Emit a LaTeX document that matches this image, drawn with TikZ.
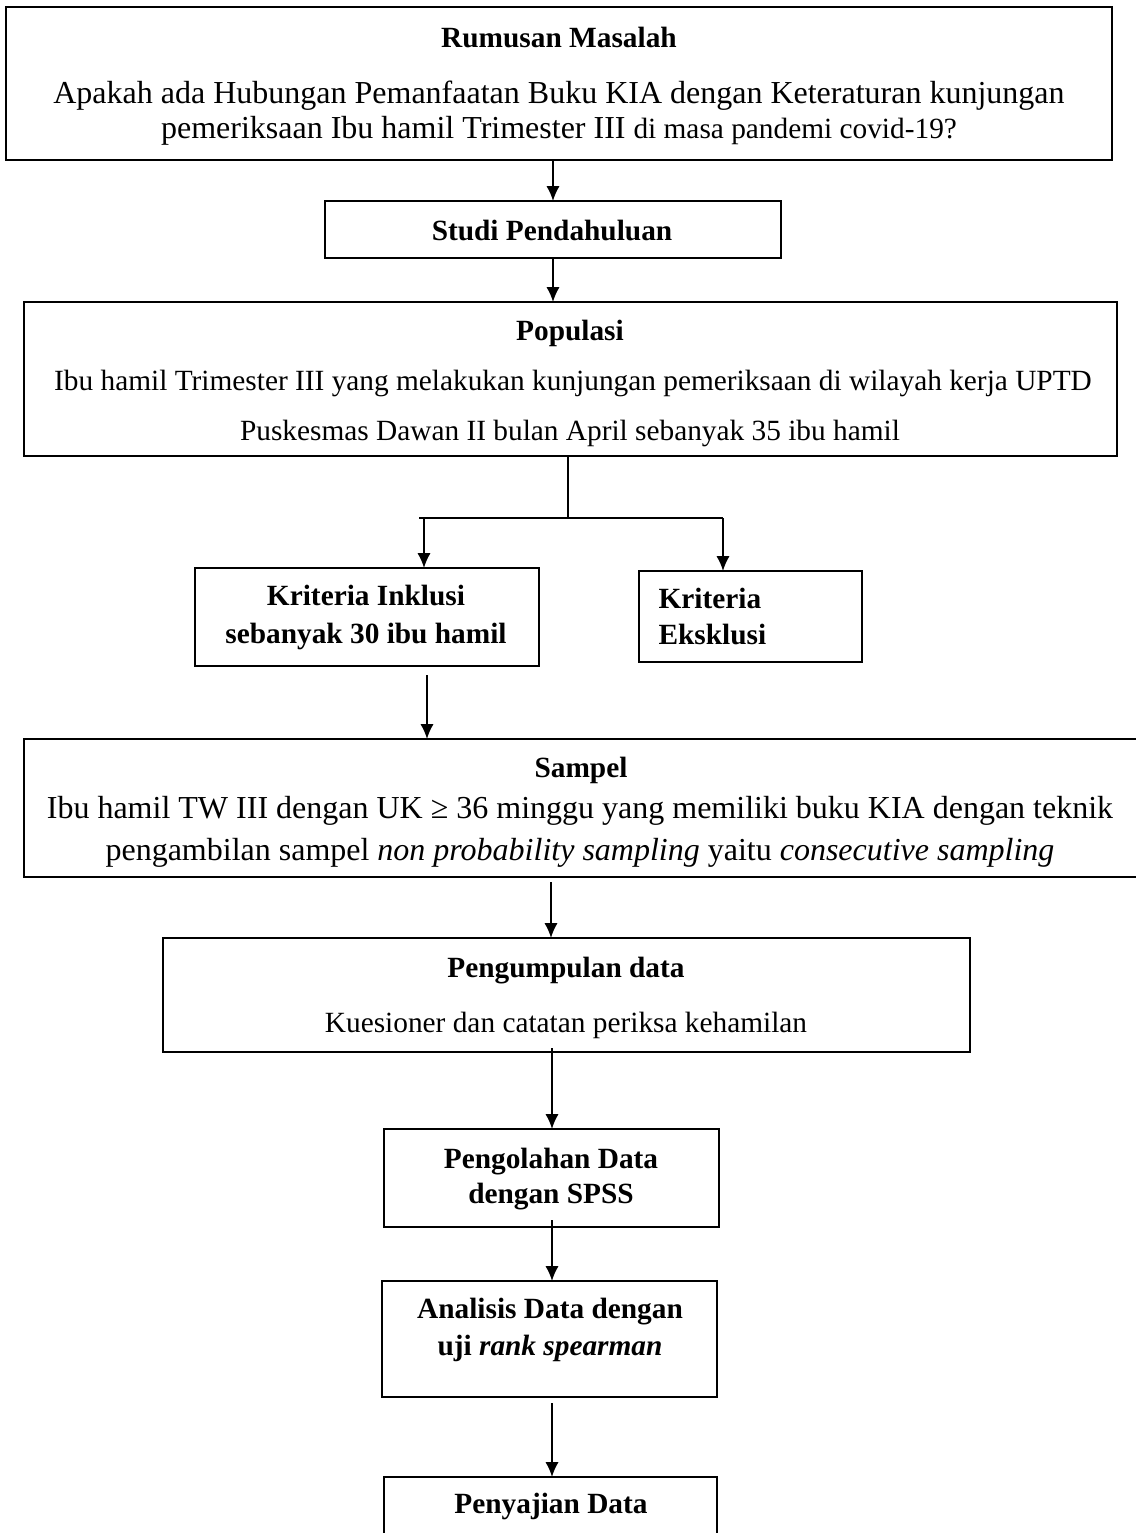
\documentclass[tikz,border=0pt]{standalone}
\usepackage{fontspec}
\setmainfont{Liberation Serif}
\usetikzlibrary{arrows.meta}
\begin{document}
\begin{tikzpicture}[x=0.375pt,y=-0.375pt,
 box/.style={draw, line width=0.75pt, inner sep=0pt, outer sep=0pt},
 arr/.style={line width=0.7pt, -{Latex[length=5.6pt,width=5pt]}},
 ln/.style={line width=0.7pt},
 tt/.style={anchor=base, inner sep=0pt, font=\fontsize{11}{13}\selectfont\bfseries},
 ttl/.style={anchor=base west, inner sep=0pt, font=\fontsize{11}{13}\selectfont\bfseries},
 tx/.style={anchor=base, inner sep=0pt, font=\fontsize{11}{13}\selectfont},
 txl/.style={anchor=base, inner sep=0pt, font=\fontsize{12}{14}\selectfont}]
\useasboundingbox (0,0) rectangle (1136,1533);
\begin{scope}
\clip (0,0) rectangle (1136,1533);
% boxes
\node[box, minimum width=414.75pt, minimum height=57.375pt] (rm) at (559,83.5) {};
\node[box, minimum width=171pt, minimum height=21.375pt] (st) at (553,229.5) {};
\node[box, minimum width=409.875pt, minimum height=57.75pt] (pop) at (570.5,379) {};
\node[box, minimum width=129pt, minimum height=36.75pt] (ink) at (367,617) {};
\node[box, minimum width=83.625pt, minimum height=34.125pt] (eks) at (750.5,616.5) {};
\node[box, minimum width=422.25pt, minimum height=51.75pt] (sam) at (587,808) {};
\node[box, minimum width=302.625pt, minimum height=42.75pt] (pk) at (566.5,995) {};
\node[box, minimum width=125.625pt, minimum height=36.75pt] (pg) at (551.5,1178) {};
\node[box, minimum width=125.625pt, minimum height=43.5pt] (an) at (549.5,1339) {};
\node[box, minimum width=124.875pt, minimum height=38.625pt] (pj) at (550.5,1528.5) {};
% texts
\node[tt] (rmt) at (559,47) {Rumusan Masalah};
\node[txl] (rm1) at (559,103) {Apakah ada Hubungan Pemanfaatan Buku KIA dengan Keteraturan kunjungan};
\node[txl] (rm2) at (559,138) {pemeriksaan Ibu hamil Trimester III {\fontsize{11}{13}\selectfont di masa pandemi covid-19?}};
\node[tt] (stt) at (552,240) {Studi Pendahuluan};
\node[tt] (popt) at (570,340) {Populasi};
\node[tx] (pop1) at (573,390) {Ibu hamil Trimester III yang melakukan kunjungan pemeriksaan di wilayah kerja UPTD};
\node[tx] (pop2) at (570,440) {Puskesmas Dawan II bulan April sebanyak 35 ibu hamil};
\node[tt] (ink1) at (366,605) {Kriteria Inklusi};
\node[tt] (ink2) at (366,643) {sebanyak 30 ibu hamil};
\node[ttl] (eks1) at (658,608) {Kriteria};
\node[ttl] (eks2) at (658,644) {Eksklusi};
\node[tt] (samt) at (581,777) {Sampel};
\node[txl] (sam1) at (580,818) {Ibu hamil TW III dengan UK ≥ 36 minggu yang memiliki buku KIA dengan teknik};
\node[txl] (sam2) at (580,860) {pengambilan sampel \textit{non probability sampling} yaitu \textit{consecutive sampling}};
\node[tt] (pkt) at (566,977) {Pengumpulan data};
\node[tx] (pk1) at (566,1032) {Kuesioner dan catatan periksa kehamilan};
\node[tt] (pg1) at (551,1168) {Pengolahan Data};
\node[tt] (pg2) at (551,1203) {dengan SPSS};
\node[tt] (an1) at (550,1318) {Analisis Data dengan};
\node[tt] (an2) at (550,1355) {uji \textit{rank spearman}};
\node[tt] (pjt) at (551,1513) {Penyajian Data};
% connectors
\draw[arr] (rm.south -| st.north) -- (st.north);
\draw[arr] (st.south) -- (st.south |- pop.north);
\coordinate (sp) at (568,518);
\coordinate (hl) at (419,518);
\coordinate (hr) at (723,518);
\coordinate (al) at (424,518);
\draw[ln] (pop.south -| sp) -- (sp);
\draw[ln] (hl) -- (hr);
\draw[arr] (al) -- (al |- ink.north);
\draw[arr] (hr) -- (hr |- eks.north);
\coordinate (a5) at (427,675);
\draw[arr] (a5) -- (a5 |- sam.north);
\coordinate (a6) at (551,882);
\draw[arr] (a6) -- (a6 |- pk.north);
\coordinate (a7) at (552,1048);
\draw[arr] (a7) -- (a7 |- pg.north);
\coordinate (a8) at (552,1220);
\draw[arr] (a8) -- (a8 |- an.north);
\coordinate (a9) at (552,1403);
\draw[arr] (a9) -- (a9 |- pj.north);
\end{scope}
\end{tikzpicture}
\end{document}
